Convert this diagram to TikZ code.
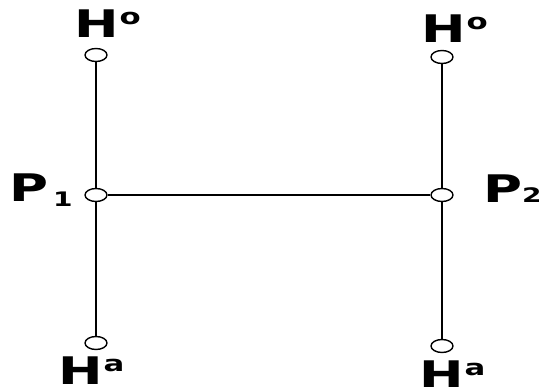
\documentclass[tikz,border=0pt]{standalone}
\usepackage{fontspec}
\usetikzlibrary{shapes.geometric}
\newfontfamily\lblfont[FakeStretch=1.4]{DejaVu Sans}
\newcommand{\hsup}[1]{H\kern1pt\raisebox{13pt}{\fontsize{22}{22}\selectfont #1}}
\newcommand{\psub}[3]{P\kern#2\raisebox{#3}{\fontsize{20}{20}\selectfont #1}}
\tikzset{
  hole/.style={ellipse, draw, fill=white, line width=1.4pt, minimum width=22pt, minimum height=13pt, inner sep=0pt},
  lbl/.style={anchor=base west, inner sep=0pt, font=\lblfont\bfseries\fontsize{38}{42}\selectfont},
  bond/.style={line width=1.6pt}
}

\begin{document}
\begin{tikzpicture}[x=1pt,y=-1pt]
\useasboundingbox (0,0) rectangle (539,387);
% the two chains
\node[hole] (o1) at (96,55) {};
\node[hole] (p1) at (96,195) {};
\node[hole] (a1) at (96,343) {};
\node[hole] (o2) at (442,57) {};
\node[hole] (p2) at (442,195) {};
\node[hole] (a2) at (442,346) {};
\draw[bond] (o1) -- (p1) -- (a1);
\draw[bond] (o2) -- (p2) -- (a2);
\draw[bond] (p1) -- (p2);
% labels
\node[lbl] (lo1) at (74,38) {\hsup{o}};
\node[lbl] (lo2) at (421,43) {\hsup{o}};
\node[lbl] (lp1) at (9,202) {\psub{1}{5pt}{-5pt}};
\node[lbl] (lp2) at (483,203) {\psub{2}{0pt}{0pt}};
\node[lbl] (la1) at (58,385) {\hsup{a}};
\node[lbl] (la2) at (419,389) {\hsup{a}};
\end{tikzpicture}
\end{document}
